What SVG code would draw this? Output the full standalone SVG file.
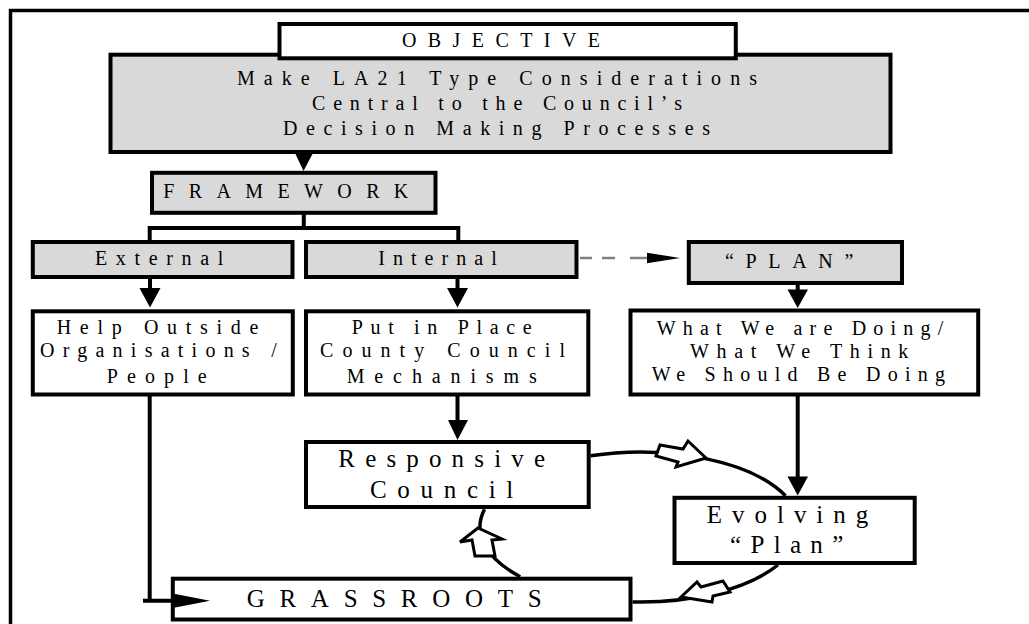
<svg xmlns="http://www.w3.org/2000/svg" width="1029" height="624" viewBox="0 0 1029 624" font-family="'Liberation Serif', 'Times New Roman', 'DejaVu Serif', serif">
<style>
.box{stroke:#000;stroke-width:4}
.grey{fill:#d9d9d9}
.white{fill:#fff}
.tx{font-family:'Liberation Serif','Times New Roman','DejaVu Serif',serif;fill:#000}
.t20{font-size:20px}
.t25{font-size:25px}
.ln{stroke:#000;stroke-width:4;fill:none}
.dash{stroke:#808080;stroke-width:2.5;fill:none;stroke-dasharray:12 10 13 15 17 40}
.cyc{stroke:#000;stroke-width:3.5;fill:none}
.head{fill:#000;stroke:none}
.open{fill:#fff;stroke:#000;stroke-width:3;stroke-linejoin:miter}
</style>
<rect x="10.5" y="10.5" width="1100" height="700" fill="none" stroke="#000" stroke-width="3.5"/>

<g id="node-objective-statement">
<rect class="box grey" x="110.5" y="54.7" width="780" height="97.3"/>
<text class="tx t20" x="237" y="84.5" textLength="520" lengthAdjust="spacing">Make LA21 Type Considerations</text>
<text class="tx t20" x="312" y="110" textLength="370" lengthAdjust="spacing">Central to the Council’s</text>
<text class="tx t20" x="283" y="135" textLength="427" lengthAdjust="spacing">Decision Making Processes</text>
</g>
<g id="node-objective">
<rect class="box white" x="279.5" y="24" width="456.3" height="34.3"/>
<text class="tx t20" x="402" y="47" textLength="198" lengthAdjust="spacing">OBJECTIVE</text>
</g>
<g id="node-framework">
<rect class="box grey" x="152" y="172.8" width="283.5" height="40"/>
<text class="tx t20" x="163.3" y="198" textLength="245" lengthAdjust="spacing">FRAMEWORK</text>
</g>
<g id="node-external">
<rect class="box grey" x="32.8" y="242" width="259.7" height="35"/>
<text class="tx t20" x="95" y="265" textLength="128.3" lengthAdjust="spacing">External</text>
</g>
<g id="node-internal">
<rect class="box grey" x="306" y="242" width="270.5" height="35"/>
<text class="tx t20" x="378.3" y="265" textLength="118.4" lengthAdjust="spacing">Internal</text>
</g>
<g id="node-plan">
<rect class="box grey" x="688.8" y="242" width="213.2" height="41"/>
<text class="tx t20" x="725" y="268" textLength="128.3" lengthAdjust="spacing">“PLAN”</text>
</g>
<g id="node-help">
<rect class="box white" x="32.8" y="311.3" width="260" height="83.2"/>
<text class="tx t20" x="56.7" y="334" textLength="201.6" lengthAdjust="spacing">Help Outside</text>
<text class="tx t20" x="40" y="357.3" textLength="236.7" lengthAdjust="spacing">Organisations /</text>
<text class="tx t20" x="106.7" y="383.3" textLength="100" lengthAdjust="spacing">People</text>
</g>
<g id="node-put">
<rect class="box white" x="306" y="311.3" width="282.3" height="83.2"/>
<text class="tx t20" x="351.7" y="334" textLength="180" lengthAdjust="spacing">Put in Place</text>
<text class="tx t20" x="320" y="357.3" textLength="245" lengthAdjust="spacing">County Council</text>
<text class="tx t20" x="346.7" y="383.3" textLength="190" lengthAdjust="spacing">Mechanisms</text>
</g>
<g id="node-what">
<rect class="box white" x="630.5" y="310.5" width="347.7" height="84"/>
<text class="tx t20" x="656.7" y="335" textLength="286.6" lengthAdjust="spacing">What We are Doing/</text>
<text class="tx t20" x="690" y="358" textLength="218.3" lengthAdjust="spacing">What We Think</text>
<text class="tx t20" x="651.7" y="381" textLength="293.3" lengthAdjust="spacing">We Should Be Doing</text>
</g>
<g id="node-responsive">
<rect class="box white" x="306" y="442" width="282.7" height="65"/>
<text class="tx t25" x="338.3" y="466.7" textLength="206.7" lengthAdjust="spacing">Responsive</text>
<text class="tx t25" x="370" y="498" textLength="143.3" lengthAdjust="spacing">Council</text>
</g>
<g id="node-evolving">
<rect class="box white" x="674.5" y="497.8" width="240.2" height="65.2"/>
<text class="tx t25" x="706.7" y="523" textLength="161.6" lengthAdjust="spacing">Evolving</text>
<text class="tx t25" x="730" y="553" textLength="113.3" lengthAdjust="spacing">“Plan”</text>
</g>
<g id="node-grassroots">
<rect class="box white" x="172.8" y="578.7" width="457.7" height="40.8"/>
<text class="tx t25" x="246.7" y="607" textLength="295" lengthAdjust="spacing">GRASSROOTS</text>
</g>

<g id="connectors">
<polygon class="head" points="295,153 313,153 303.5,171"/>
<path class="ln" d="M303.8,212 V228 M149.7,241 V228 H458.3 V241"/>
<path class="ln" d="M150,277 V290 M457.5,277 V290 M797.7,283 V291 M457.5,394.5 V421 M797.7,394.5 V478"/>
<polygon class="head" points="139.5,288 160.5,288 150,307.5"/>
<polygon class="head" points="447,288 468,288 457.5,307.5"/>
<polygon class="head" points="787.5,289.5 808,289.5 797.7,308"/>
<polygon class="head" points="448,420 468,420 457.5,440"/>
<polygon class="head" points="787.5,476.5 808,476.5 797.7,495.5"/>
<line class="dash" x1="580" y1="258" x2="648" y2="258"/>
<polygon class="head" points="647,252.7 680,258 647,263.3"/>
<path class="ln" d="M149.7,394.5 V600.8 M143,600.8 H176"/>
<polygon class="head" points="174,593.8 210,600.8 174,607.8"/>
<path class="cyc" d="M590.5,455.8 A160,75 0 0 1 785.5,495.8"/>
<path class="cyc" d="M777.9,565 A160,75 0 0 1 632.5,601.9"/>
<path class="cyc" d="M520.2,576.7 A160,75 0 0 1 484.5,509.3"/>
<polygon class="open" points="706,458 688,441 683,449 660,445 656,456 678,462 676,467"/>
<polygon class="open" points="681,597 697,582 701,587 723,581 730,592 713,596 712,602"/>
<polygon class="open" points="478,528 460,542 472,540 475,556 495,556 492,540 502,539"/>
</g>
</svg>
